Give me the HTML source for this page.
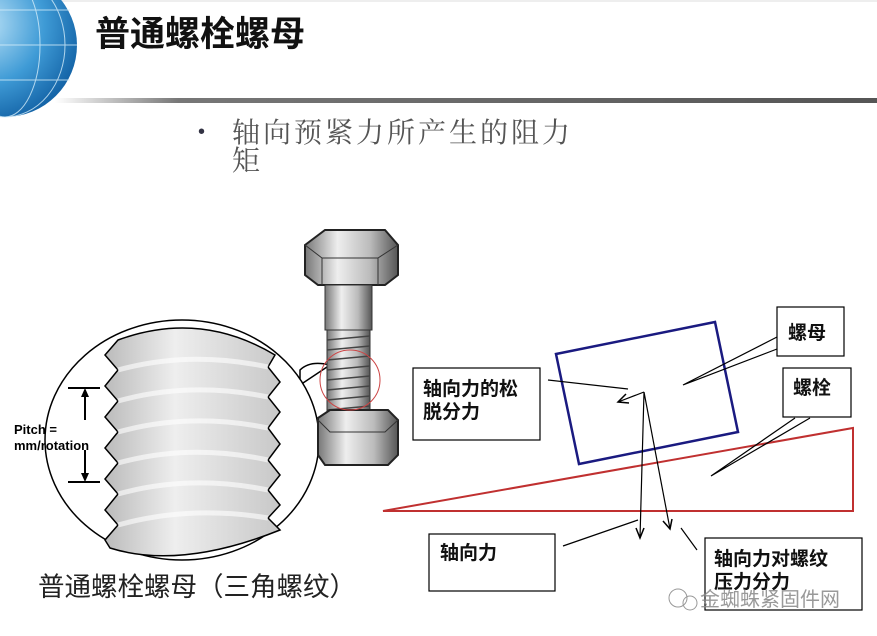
<!DOCTYPE html>
<html><head><meta charset="utf-8"><style>
body{margin:0;background:#fff;}
svg{display:block;}
text{font-family:"Liberation Sans","Noto Sans CJK SC",sans-serif;}
</style></head><body>
<svg width="877" height="636" viewBox="0 0 877 636" xmlns="http://www.w3.org/2000/svg">
<defs>
<radialGradient id="globe" cx="0.35" cy="0.35" r="0.7">
<stop offset="0" stop-color="#bfe4f8"/><stop offset="0.6" stop-color="#3f9bd6"/><stop offset="1" stop-color="#1565a8"/></radialGradient>
<linearGradient id="bar" x1="0" x2="1"><stop offset="0" stop-color="#fff"/><stop offset="0.15" stop-color="#777"/><stop offset="1" stop-color="#555"/></linearGradient>
<linearGradient id="steel" x1="0" x2="1"><stop offset="0" stop-color="#777"/><stop offset="0.35" stop-color="#eee"/><stop offset="0.7" stop-color="#bbb"/><stop offset="1" stop-color="#555"/></linearGradient>
<linearGradient id="thr" x1="0" x2="1"><stop offset="0" stop-color="#bbb"/><stop offset="0.4" stop-color="#eee"/><stop offset="1" stop-color="#c8c8c8"/></linearGradient>
</defs>
<line x1="0" y1="1" x2="877" y2="1" stroke="#ddd"/>
<circle cx="5" cy="45" r="72" fill="url(#globe)"/>
<g stroke="#d6eefa" stroke-width="1" fill="none" opacity="0.8">
<ellipse cx="5" cy="45" rx="35" ry="72"/><ellipse cx="5" cy="45" rx="60" ry="72"/>
<path d="M-67 45H77M-60 10H70M-60 80H70"/></g>
<rect x="55" y="98" width="822" height="5" fill="url(#bar)"/>
<text x="95" y="46" font-size="35" font-weight="bold" fill="#111">普通螺栓螺母</text>
<text x="198" y="138" font-size="20" fill="#334">•</text>
<text x="232" y="142" font-size="28" letter-spacing="3" fill="#555" style="font-family:'Liberation Serif','Noto Serif CJK SC',serif">轴向预紧力所产生的阻力</text>
<text x="232" y="170" font-size="28" fill="#555" style="font-family:'Liberation Serif','Noto Serif CJK SC',serif">矩</text>

<!-- magnified circle -->
<path d="M300 370 Q310 360 330 365 L300 385 Z" fill="#fff" stroke="#000" stroke-width="1.5"/>
<ellipse cx="182" cy="440" rx="137" ry="120" fill="#fff" stroke="#000" stroke-width="1.5"/>
<path d="M118 340 L105 355 L118 370 L105 386 L118 401 L105 417 L118 432 L105 448 L118 463 L105 479 L118 494 L105 510 L118 525 L105 540 L110 548 Q180 570 280 530 L268 518 L280 505 L268 490 L280 475 L268 460 L280 444 L268 428 L280 412 L268 397 L280 382 L268 367 L275 355 Q200 310 118 340 Z" fill="url(#thr)" stroke="#000" stroke-width="1.5"/>
<g stroke="#fff" stroke-width="5" fill="none" opacity="0.6">
<path d="M118 370 Q190 350 268 367M118 401 Q190 381 268 397M118 432 Q190 412 268 428M118 463 Q190 443 268 460M118 494 Q190 474 268 490M118 525 Q190 505 268 518"/></g>
<path d="M68 388H100M68 482H100M85 390V420M85 450V478" stroke="#000" stroke-width="2"/>
<path d="M85 388l-4 9h8zM85 482l-4-9h8z" fill="#000"/>
<text x="14" y="434" font-size="13" font-weight="bold">Pitch =</text>
<text x="14" y="450" font-size="13" font-weight="bold">mm/rotation</text>

<!-- bolt -->
<path d="M305 245 L325 230 L385 230 L398 245 L398 275 L385 285 L318 285 L305 275 Z" fill="url(#steel)" stroke="#222" stroke-width="2"/>
<path d="M305 245 L322 258 L378 258 L398 245 M322 258 V285 M378 258 V285" stroke="#333" fill="none"/>
<rect x="325" y="285" width="47" height="45" fill="url(#steel)" stroke="#333"/>
<rect x="327" y="330" width="43" height="85" fill="url(#steel)" stroke="#333"/>
<g stroke="#444" stroke-width="1.5"><path d="M327 340L370 336M327 350L370 346M327 360L370 356M327 370L370 366M327 380L370 376M327 390L370 386M327 400L370 396M327 410L370 406"/></g>
<path d="M318 418 L330 410 L388 410 L398 420 L398 455 L388 465 L325 465 L318 455 Z" fill="url(#steel)" stroke="#222" stroke-width="2"/>
<path d="M318 420 L330 432 L385 432 L398 420" stroke="#333" fill="none"/>
<circle cx="350" cy="380" r="30" fill="none" stroke="#c44" stroke-width="1"/>
<text x="38" y="596" font-size="26.5" fill="#222">普通螺栓螺母（三角螺纹）</text>

<!-- right diagram -->
<polygon points="556,354 715,322 738,432 579,464" fill="none" stroke="#1a1a80" stroke-width="2.5"/>
<polygon points="383,511 853,428 853,511" fill="none" stroke="#c03030" stroke-width="2"/>
<g fill="#fff" stroke="#000" stroke-width="1.2">
<rect x="777" y="307" width="67" height="49"/>
<rect x="783" y="368" width="68" height="49"/>
<rect x="413" y="368" width="127" height="72"/>
<rect x="429" y="534" width="126" height="57"/>
<rect x="705" y="538" width="157" height="72"/>
</g>
<g stroke="#000" stroke-width="1.2" fill="none">
<path d="M777 337L683 385L777 349"/>
<path d="M795 418L711 476L810 418"/>
<path d="M548 380L628 389"/>
<path d="M644 392L618 402M644 392L640 538M644 392L670 529"/>
<path d="M563 546L638 520M681 528L697 550"/>
<path d="M626 394L618 402L629 403M636 528L640 538L644 528M663 521L670 529L672 519" stroke-width="1.5"/>
</g>
<g font-size="19" font-weight="bold" fill="#111">
<text x="788" y="339">螺母</text>
<text x="793" y="394">螺栓</text>
<text x="423" y="395">轴向力的松</text>
<text x="423" y="418">脱分力</text>
<text x="440" y="559">轴向力</text>
<text x="714" y="565">轴向力对螺纹</text>
<text x="714" y="588">压力分力</text>
</g>
<circle cx="678" cy="598" r="9" fill="none" stroke="#999"/>
<circle cx="690" cy="603" r="7" fill="none" stroke="#999"/>
<text x="700" y="606" font-size="20" fill="#888" opacity="0.85">金蜘蛛紧固件网</text>
</svg>
</body></html>
